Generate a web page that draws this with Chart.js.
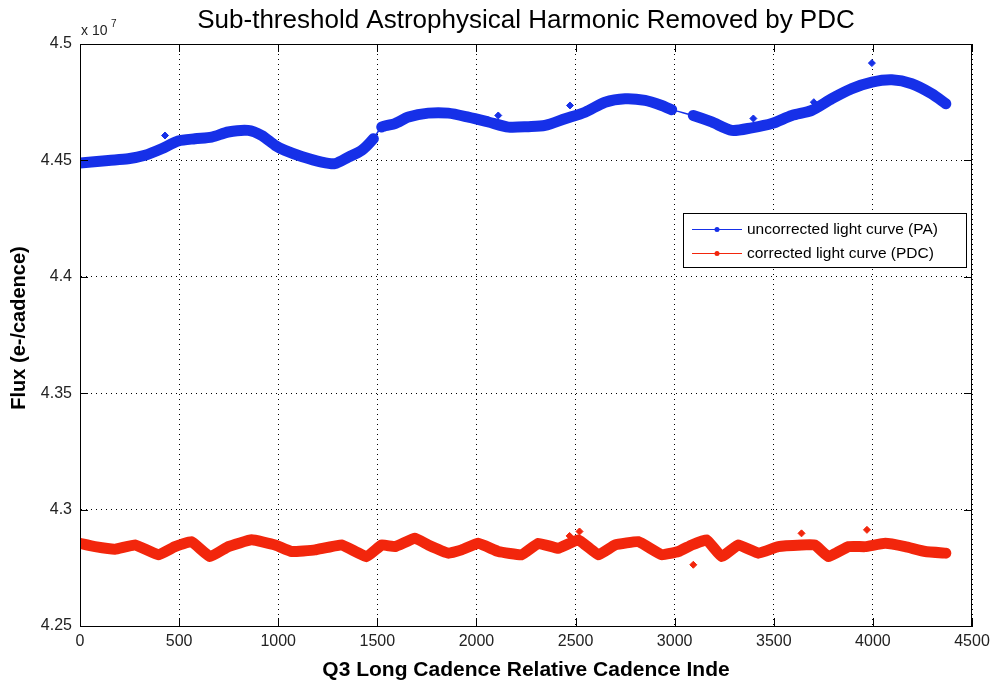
<!DOCTYPE html>
<html>
<head>
<meta charset="utf-8">
<script src="https://cdn.jsdelivr.net/npm/chart.js@4.4.1/dist/chart.umd.min.js"></script>
<style>
  html, body { margin: 0; padding: 0; background: #fff; }
  #wrap { width: 990px; height: 680px; }
</style>
</head>
<body>
<div id="wrap"><canvas id="c"></canvas></div>
<script>
// ── Data (flux in units of 1e7 e-/cadence) ───────────────────────────
var blueCadence = [0, 143, 243, 328, 412, 495, 580, 664, 748, 848,
  917, 984, 1034, 1118, 1219, 1286, 1354, 1421, 1480, 1522,
  1589, 1657, 1757, 1858, 1959, 2060, 2161, 2262, 2346, 2447,
  2548, 2649, 2750, 2851, 2935, 2985, 3094, 3187, 3288, 3389,
  3490, 3591, 3692, 3793, 3894, 3995, 4096, 4196, 4297, 4368];
var blueFlux = [4.4489, 4.4500, 4.4507, 4.4522, 4.4550, 4.4583, 4.4593, 4.4600, 4.4622, 4.4629,
  4.4607, 4.4565, 4.4543, 4.4517, 4.4493, 4.4486, 4.4514, 4.4543, 4.4593, 4.4643,
  4.4658, 4.4686, 4.4703, 4.4703, 4.4686, 4.4665, 4.4643, 4.4645, 4.4650, 4.4679,
  4.4707, 4.4750, 4.4765, 4.4758, 4.4736, 4.4718, 4.4693, 4.4665, 4.4629, 4.4640,
  4.4658, 4.4693, 4.4715, 4.4765, 4.4808, 4.4836, 4.4846, 4.4829, 4.4786, 4.4743];
// cadences where the PA curve has a data gap (thin connector follows)
var blueGapStarts = [1480, 2985];

var redCadence = [0, 76, 177, 278, 395, 479, 563, 656, 748, 866,
  984, 1068, 1186, 1320, 1446, 1522, 1589, 1690, 1757, 1858,
  1925, 2009, 2110, 2228, 2312, 2413, 2514, 2615, 2699, 2817,
  2935, 3019, 3086, 3161, 3237, 3321, 3422, 3523, 3641, 3708,
  3776, 3877, 3961, 4062, 4163, 4264, 4368];
var redFlux = [4.2855, 4.2841, 4.2830, 4.2848, 4.2806, 4.2841, 4.2862, 4.2798, 4.2841, 4.2870,
  4.2848, 4.2820, 4.2827, 4.2848, 4.2798, 4.2848, 4.2841, 4.2877, 4.2848, 4.2813,
  4.2827, 4.2855, 4.2820, 4.2806, 4.2855, 4.2834, 4.2870, 4.2806, 4.2848, 4.2862,
  4.2806, 4.2820, 4.2848, 4.2870, 4.2798, 4.2848, 4.2813, 4.2841, 4.2848, 4.2848,
  4.2798, 4.2841, 4.2841, 4.2855, 4.2841, 4.2820, 4.2813];

var blueSpikeCadence = [429, 2110, 2472, 3397, 3702, 3995];
var blueSpikeFlux = [4.4607, 4.4693, 4.4736, 4.4680, 4.4750, 4.4918];
var redSpikeCadence = [2470, 2520, 3094, 3640, 3970];
var redSpikeFlux = [4.2887, 4.2906, 4.2763, 4.2898, 4.2913];

var xTicks = [0, 500, 1000, 1500, 2000, 2500, 3000, 3500, 4000, 4500];
var yTicks = [4.25, 4.3, 4.35, 4.4, 4.45, 4.5];

var seriesNames = ['uncorrected light curve (PA)', 'corrected light curve (PDC)'];
var BLUE = '#1630e8';
var RED = '#f2260c';
var FONT = '"Liberation Sans", Arial, Helvetica, sans-serif';

function zip(xs, ys) {
  return xs.map(function(x, i) { return { x: x, y: ys[i] }; });
}

// ── MATLAB-style decorations: box, inward ticks, titles, legend ──────
var matlabDecor = {
  id: 'matlabDecor',
  afterDraw: function(chart) {
    var ctx = chart.ctx;
    var a = chart.chartArea;
    var xs = chart.scales.x, ys = chart.scales.y;
    ctx.save();

    // box
    ctx.strokeStyle = '#000';
    ctx.lineWidth = 1;
    ctx.strokeRect(a.left + 0.5, a.top + 0.5, a.right - a.left - 1, a.bottom - a.top);

    // inward ticks
    ctx.beginPath();
    xTicks.forEach(function(v) {
      var px = Math.round(xs.getPixelForValue(v)) + 0.5;
      ctx.moveTo(px, a.bottom); ctx.lineTo(px, a.bottom - 8);
      ctx.moveTo(px, a.top); ctx.lineTo(px, a.top + 8);
    });
    yTicks.forEach(function(v) {
      var py = Math.round(ys.getPixelForValue(v)) + 0.5;
      ctx.moveTo(a.left, py); ctx.lineTo(a.left + 8, py);
      ctx.moveTo(a.right, py); ctx.lineTo(a.right - 8, py);
    });
    ctx.stroke();

    ctx.fillStyle = '#000';
    var cx = (a.left + a.right) / 2;

    // title
    ctx.font = '26px ' + FONT;
    ctx.textAlign = 'center';
    ctx.textBaseline = 'alphabetic';
    ctx.fillText('Sub-threshold Astrophysical Harmonic Removed by PDC', cx, 28);

    // exponent
    ctx.textAlign = 'left';
    ctx.font = '14px ' + FONT;
    ctx.fillStyle = '#222';
    ctx.fillText('x 10', a.left + 1, 35);
    ctx.font = '10px ' + FONT;
    ctx.fillText('7', a.left + 31, 27);

    // axis labels
    ctx.fillStyle = '#000';
    ctx.font = 'bold 21px ' + FONT;
    ctx.textAlign = 'center';
    ctx.fillText('Q3 Long Cadence Relative Cadence Inde', cx, 676);
    ctx.save();
    ctx.translate(19, 328);
    ctx.rotate(-Math.PI / 2);
    ctx.font = 'bold 20px ' + FONT;
    ctx.textBaseline = 'middle';
    ctx.fillText('Flux (e-/cadence)', 0, 0);
    ctx.restore();

    // legend
    var lx = 683, ly = 213, lw = 283, lh = 54;
    ctx.fillStyle = '#fff';
    ctx.fillRect(lx, ly, lw, lh);
    ctx.strokeStyle = '#000';
    ctx.strokeRect(lx + 0.5, ly + 0.5, lw, lh);
    [BLUE, RED].forEach(function(col, i) {
      var ry = ly + 16 + i * 24;
      ctx.strokeStyle = col;
      ctx.lineWidth = 1;
      ctx.beginPath();
      ctx.moveTo(lx + 9, ry + 0.5); ctx.lineTo(lx + 59, ry + 0.5);
      ctx.stroke();
      ctx.fillStyle = col;
      ctx.beginPath();
      ctx.arc(lx + 34, ry + 0.5, 2.5, 0, Math.PI * 2);
      ctx.fill();
      ctx.fillStyle = '#000';
      ctx.font = '15.5px ' + FONT;
      ctx.textAlign = 'left';
      ctx.textBaseline = 'middle';
      ctx.fillText(seriesNames[i], lx + 64, ry + 1);
    });
    ctx.restore();
  }
};

var gridCfg = { color: '#000', lineWidth: 1, drawTicks: false };
var borderCfg = { display: true, color: '#000', dash: [1, 4] };

new Chart(document.getElementById('c'), {
  type: 'scatter',
  data: {
    datasets: [
      {
        label: seriesNames[0],
        data: zip(blueCadence, blueFlux),
        showLine: true,
        borderColor: BLUE,
        borderWidth: 11,
        borderCapStyle: 'round',
        borderJoinStyle: 'round',
        tension: 0.25,
        pointRadius: 0,
        segment: {
          borderWidth: function(c) {
            return blueGapStarts.indexOf(c.p0.parsed.x) >= 0 ? 1.5 : 11;
          }
        }
      },
      {
        label: seriesNames[1],
        data: zip(redCadence, redFlux),
        showLine: true,
        borderColor: RED,
        borderWidth: 11,
        borderCapStyle: 'round',
        borderJoinStyle: 'round',
        tension: 0.1,
        pointRadius: 0
      },
      {
        label: 'PA outliers',
        data: zip(blueSpikeCadence, blueSpikeFlux),
        showLine: false,
        pointStyle: 'rectRot',
        pointRadius: 3.5,
        backgroundColor: BLUE,
        borderColor: BLUE
      },
      {
        label: 'PDC outliers',
        data: zip(redSpikeCadence, redSpikeFlux),
        showLine: false,
        pointStyle: 'rectRot',
        pointRadius: 3.5,
        backgroundColor: RED,
        borderColor: RED
      }
    ]
  },
  options: {
    responsive: true,
    maintainAspectRatio: false,
    animation: false,
    events: [],
    layout: { padding: { top: 44, right: 18, left: 0, bottom: 0 } },
    plugins: {
      legend: { display: false },
      title: { display: false },
      tooltip: { enabled: false }
    },
    scales: {
      x: {
        type: 'linear',
        min: 0,
        max: 4500,
        afterFit: function(s) { s.height = 54; s.paddingLeft = 0; s.paddingRight = 0; },
        afterBuildTicks: function(s) { s.ticks = xTicks.map(function(v) { return { value: v }; }); },
        ticks: {
          color: '#222',
          font: { family: FONT, size: 16 },
          padding: 6,
          maxRotation: 0,
          callback: function(v) { return String(v); }
        },
        grid: gridCfg,
        border: borderCfg
      },
      y: {
        min: 4.25,
        max: 4.5,
        afterFit: function(s) { s.width = 80; s.paddingTop = 0; s.paddingBottom = 0; },
        afterBuildTicks: function(s) { s.ticks = yTicks.map(function(v) { return { value: v }; }); },
        ticks: {
          color: '#222',
          font: { family: FONT, size: 16 },
          padding: 8,
          callback: function(v) { return String(+v.toFixed(2)); }
        },
        grid: gridCfg,
        border: borderCfg
      }
    }
  },
  plugins: [matlabDecor]
});
</script>
</body>
</html>
